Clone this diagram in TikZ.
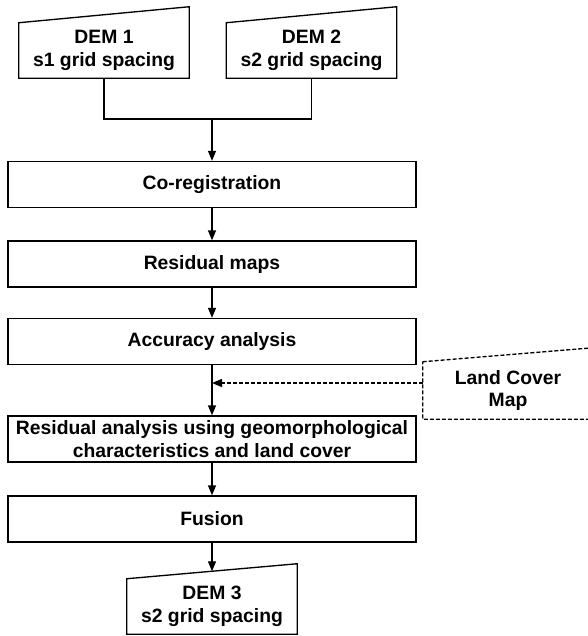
\documentclass[tikz,border=0pt]{standalone}
\usepackage{fontspec}
\setmainfont{Liberation Sans}
\usepackage{tikz}
\usetikzlibrary{arrows.meta,positioning}
\tikzstyle{line} = [line width=1pt]
\tikzstyle{arrow} = [line width=1pt,-{Triangle[length=7.5pt,width=6pt]}]
\tikzstyle{process} = [rectangle, draw, line width=1pt, minimum width=306pt, minimum height=34.5pt, align=center, inner sep=1pt, font=\bfseries\fontsize{14.5}{17}\selectfont]
\tikzstyle{dem} = [rectangle, minimum width=127.5pt, minimum height=41.25pt, align=center, inner sep=0pt, font=\bfseries\fontsize{14.5}{17}\selectfont]

\begin{document}
\begin{tikzpicture}[x=0.75pt,y=-0.75pt]
\useasboundingbox (0,0) rectangle (588,636);

% input DEMs
\node[dem] (dem1) at (104,50.5) {DEM 1\\s1 grid spacing};
\node[dem] (dem2) at (311.5,50.5) {DEM 2\\s2 grid spacing};
\draw[line] (dem1.south west) -- (dem1.south east) -- ([yshift=12pt]dem1.north east) -- (dem1.north west) -- cycle;
\draw[line] (dem2.south west) -- (dem2.south east) -- ([yshift=12pt]dem2.north east) -- (dem2.north west) -- cycle;
\coordinate (join) at (212,119);

% processing chain
\node[process] (coreg) at (212,184.5) {Co-registration};
\node[process] (resmaps) at (212,264) {Residual maps};
\node[process] (accuracy) at (212,341.5) {Accuracy analysis};
\node[process] (resanalysis) at (212,439) {Residual analysis using geomorphological\\characteristics and land cover};
\node[process] (fusion) at (212,519) {Fusion};

% land cover input
\node[dem, minimum height=42.75pt] (landcover) at (508,390.5) {Land Cover\\Map};
\draw[line, dash pattern=on 3pt off 1.5pt] (landcover.north west) -- ([yshift=10.5pt]landcover.north east) -- (landcover.south east) -- (landcover.south west) -- cycle;
\coordinate (mid) at (212,383);

% output DEM
\node[dem] (dem3) at (212,606.5) {DEM 3\\s2 grid spacing};
\draw[line] (dem3.south west) -- (dem3.south east) -- ([yshift=11.25pt]dem3.north east) -- (dem3.north west) -- cycle;

% connectors
\draw[line] (dem1.south) |- (join) -| (dem2.south);
\draw[arrow] (join) -- (coreg.north);
\draw[arrow] (coreg) -- (resmaps);
\draw[arrow] (resmaps) -- (accuracy);
\draw[arrow] (accuracy) -- (resanalysis);
\draw[arrow, dash pattern=on 3pt off 1.5pt] (landcover.west |- mid) -- (mid);
\draw[arrow] (resanalysis) -- (fusion);
\draw[arrow] (fusion) -- ([yshift=5.6pt]dem3.north);
\end{tikzpicture}
\end{document}
